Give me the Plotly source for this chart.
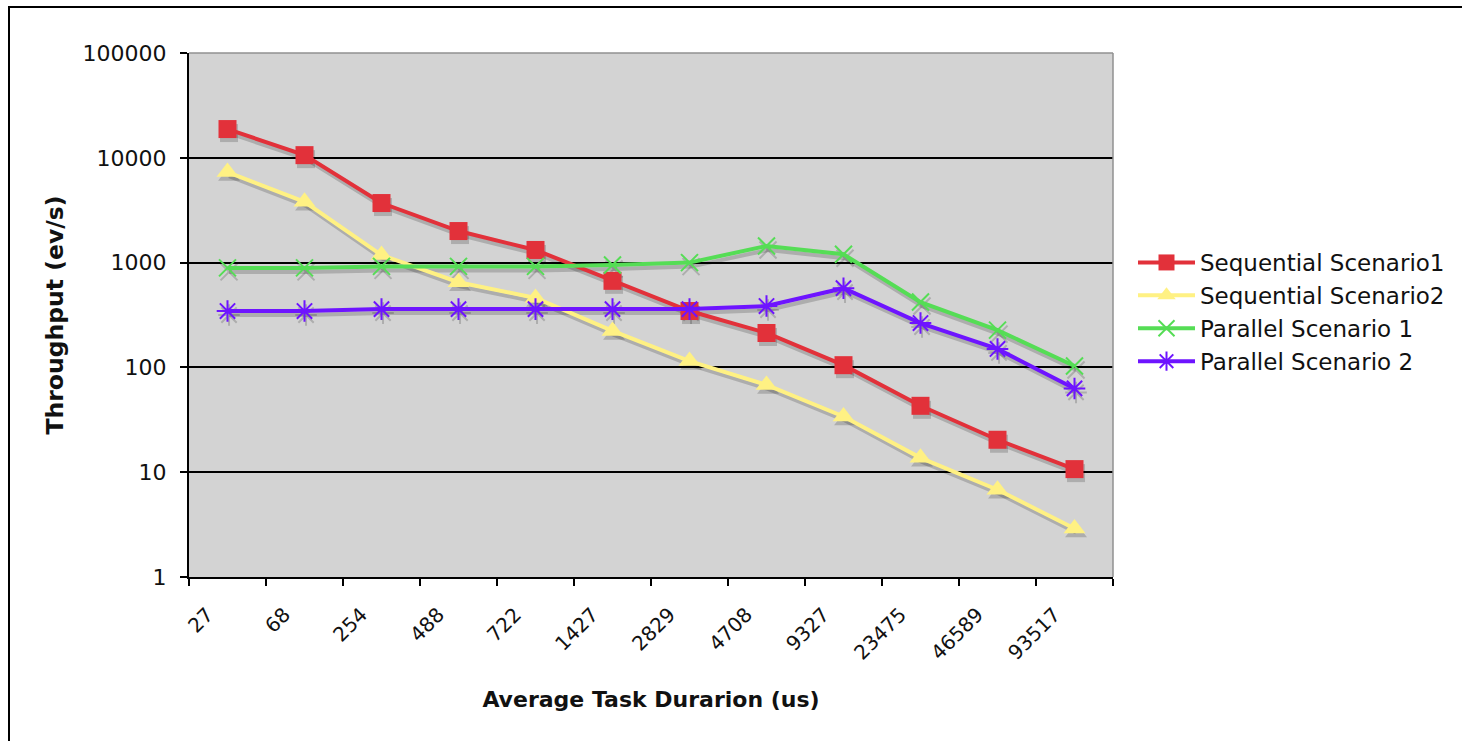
import plotly.graph_objects as go
import numpy as np

categories = ["27", "68", "254", "488", "722", "1427", "2829", "4708", "9327", "23475", "46589", "93517"]
seq1 = [18800, 10600, 3700, 2000, 1320, 670, 345, 213, 105, 43, 20.4, 10.7]
seq2 = [7300, 3800, 1180, 650, 460, 223, 115, 68, 34, 13.7, 6.8, 2.9]
par1 = [890, 890, 920, 920, 920, 950, 1000, 1440, 1200, 420, 227, 103]
par2 = [345, 345, 360, 360, 360, 360, 360, 385, 570, 265, 150, 63]
y_ticks = [1, 10, 100, 1000, 10000, 100000]

series = [
    ("Sequential Scenario1", seq1, "#e2313a", "square", 18, 0),
    ("Sequential Scenario2", seq2, "#fff183", "triangle-up", 19, 0),
    ("Parallel Scenario 1", par1, "#55dd55", "x-thin-open", 17, 2),
    ("Parallel Scenario 2", par2, "#6e14ff", "asterisk-open", 18, 2),
]

n = len(categories)
x = np.arange(n) + 0.5

fig = go.Figure()
# drop shadows
for name, vals, color, sym, size, mlw in series:
    fig.add_trace(go.Scatter(
        x=x + 0.02, y=np.array(vals) * 10 ** (-4 / 104.8), mode="lines+markers",
        line=dict(color="rgba(0,0,0,0.18)", width=4),
        marker=dict(symbol=sym, size=size, color="rgba(0,0,0,0.18)",
                    line=dict(width=mlw, color="rgba(0,0,0,0.18)")),
        showlegend=False, hoverinfo="skip"))
for name, vals, color, sym, size, mlw in series:
    fig.add_trace(go.Scatter(
        x=x, y=vals, mode="lines+markers", name=name,
        line=dict(color=color, width=4),
        marker=dict(symbol=sym, size=size, color=color, line=dict(width=mlw, color=color))))

W, H = 1462, 741
L, R, T, B = 189, 349, 53, 164
pw, ph = W - L - R, H - T - B

def px(v):
    return (v - L) / pw

def py(v):
    return (H - B - v) / ph

font_fam = "DejaVu Sans, Verdana, sans-serif"
fig.update_layout(
    width=W, height=H,
    margin=dict(l=L, r=R, t=T, b=B),
    paper_bgcolor="white", plot_bgcolor="#d3d3d3",
    font=dict(family=font_fam, color="#111"),
    showlegend=True,
    legend=dict(x=px(1133), y=py(312), xanchor="left", yanchor="middle",
                font=dict(size=23, color="#111"), bgcolor="rgba(0,0,0,0)",
                tracegroupgap=0, itemwidth=57),
    xaxis=dict(range=[0, n], tickmode="array", tickvals=list(np.arange(n) + 0.24),
               ticktext=categories, tickangle=-45, ticks="", showgrid=False,
               zeroline=False, showline=True, linecolor="black", linewidth=2,
               tickfont=dict(size=20, color="#111"), ticklabelstandoff=16,
               minor=dict(tickmode="array", tickvals=list(range(n + 1)), ticks="outside",
                          ticklen=7, tickwidth=2, tickcolor="black", showgrid=False),
               title=dict(text="<b>Average Task Durarion (us)</b>", font=dict(size=22, color="#111"),
                          standoff=28)),
    yaxis=dict(type="log", range=[0, 5], tickmode="array", tickvals=y_ticks,
               ticktext=[str(v) for v in y_ticks], ticks="outside", ticklen=7, tickwidth=2,
               tickcolor="black", showgrid=True, gridcolor="black", gridwidth=1.5,
               zeroline=False, showline=True, linecolor="black", linewidth=2,
               tickfont=dict(size=22, color="#111"), ticklabelstandoff=9,
               title=dict(text="<b>Throughput (ev/s)</b>", font=dict(size=23.5, color="#111"),
                          standoff=12)),
    shapes=[
        dict(type="line", xref="paper", yref="paper", x0=0, x1=1, y0=1, y1=1,
             line=dict(color="#909090", width=1.5), layer="above"),
        dict(type="line", xref="paper", yref="paper", x0=1, x1=1, y0=0, y1=1,
             line=dict(color="#909090", width=1.5), layer="above"),
        dict(type="rect", xref="paper", yref="paper", x0=px(9), x1=px(1475),
             y0=py(760), y1=py(7), line=dict(color="black", width=2)),
    ],
)

fig.write_html("out.html", config={"displayModeBar": False},
               post_script="document.body.style.margin='0';")
